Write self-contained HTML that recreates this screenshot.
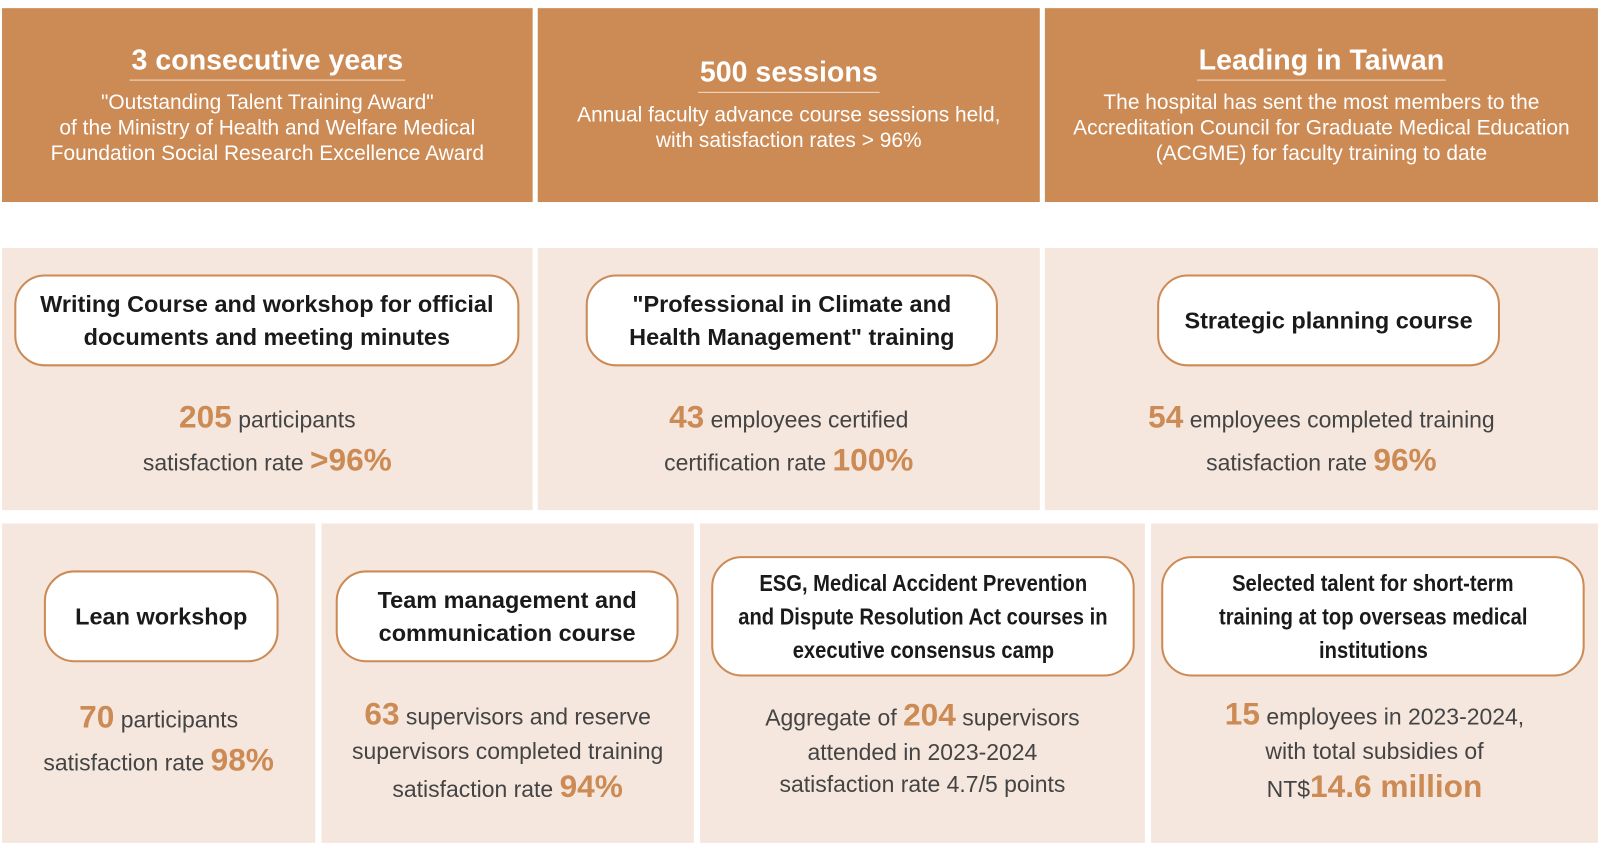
<!DOCTYPE html>
<html><head><meta charset="utf-8"><style>
html,body{margin:0;padding:0;background:#fff;width:1600px;height:850px;overflow:hidden}
#w{position:absolute;left:0;top:0;width:1568px;height:833px;transform:scale(1.0204);transform-origin:0 0;font-family:"Liberation Sans",Arial,sans-serif}
.b{position:absolute}
.o{background:#CC8A55;color:#fff;text-align:center}
.g{background:#F5E7DD;text-align:center;color:#333}
.t{position:absolute;left:0;right:0;text-align:center}
.title{font-weight:bold;font-size:28px;display:inline-block;border-bottom:1.5px solid #F3DCC8;padding:0 2px 3px}
.sub{font-size:20.5px;line-height:25px}
.pill{position:absolute;background:#fff;border:2px solid #CC8A55;border-radius:30px;display:flex;align-items:center;justify-content:center;text-align:center;font-weight:bold;font-size:23px;line-height:32px;color:#1a1a1a;box-sizing:border-box}
.n div{white-space:nowrap;transform:scaleX(0.86);font-size:23px;line-height:33px}
.s{font-size:22.5px;color:#444}
.h{color:#CC8A55;font-weight:bold;font-size:31px}
</style></head><body><div id="w">
<div class="b o" style="left:2px;top:8px;width:520px;height:190px">
 <div class="t" style="top:35px"><span class="title">3 consecutive years</span></div>
 <div class="t sub" style="top:80px">"Outstanding Talent Training Award"<br>of the Ministry of Health and Welfare Medical<br>Foundation Social Research Excellence Award</div>
</div>
<div class="b o" style="left:527px;top:8px;width:492px;height:190px">
 <div class="t" style="top:47px"><span class="title">500 sessions</span></div>
 <div class="t sub" style="top:92px">Annual faculty advance course sessions held,<br>with satisfaction rates &gt; 96%</div>
</div>
<div class="b o" style="left:1024px;top:8px;width:542px;height:190px">
 <div class="t" style="top:35px"><span class="title">Leading in Taiwan</span></div>
 <div class="t sub" style="top:80px">The hospital has sent the most members to the<br>Accreditation Council for Graduate Medical Education<br>(ACGME) for faculty training to date</div>
</div>

<div class="b g" style="left:2px;top:243px;width:520px;height:257px"></div>
<div class="b g" style="left:527px;top:243px;width:492px;height:257px"></div>
<div class="b g" style="left:1024px;top:243px;width:542px;height:257px"></div>
<div class="pill" style="left:14px;top:269px;width:495px;height:90px">Writing Course and workshop for official<br>documents and meeting minutes</div>
<div class="pill" style="left:574px;top:269px;width:404px;height:90px">"Professional in Climate and<br>Health Management" training</div>
<div class="pill" style="left:1134px;top:269px;width:336px;height:90px">Strategic planning course</div>
<div class="t s" style="left:2px;width:520px;right:auto;top:389px;line-height:39px"><span class="h">205</span> participants<br>satisfaction rate <span class="h">&gt;96%</span></div>
<div class="t s" style="left:527px;width:492px;right:auto;top:389px;line-height:39px"><span class="h">43</span> employees certified<br>certification rate <span class="h">100%</span></div>
<div class="t s" style="left:1024px;width:542px;right:auto;top:389px;line-height:39px"><span class="h">54</span> employees completed training<br>satisfaction rate <span class="h">96%</span></div>

<div class="b g" style="left:2px;top:513px;width:307px;height:313px"></div>
<div class="b g" style="left:315px;top:513px;width:365px;height:313px"></div>
<div class="b g" style="left:686px;top:513px;width:436px;height:313px"></div>
<div class="b g" style="left:1128px;top:513px;width:438px;height:313px"></div>
<div class="pill" style="left:43px;top:559px;width:230px;height:90px">Lean workshop</div>
<div class="pill" style="left:329px;top:559px;width:336px;height:90px">Team management and<br>communication course</div>
<div class="pill n" style="left:697px;top:545px;width:415px;height:118px;flex-direction:column"><div>ESG, Medical Accident Prevention</div><div>and Dispute Resolution Act courses in</div><div>executive consensus camp</div></div>
<div class="pill n" style="left:1138px;top:545px;width:415px;height:118px;flex-direction:column"><div>Selected talent for short-term</div><div>training at top overseas medical</div><div>institutions</div></div>
<div class="t s" style="left:2px;width:307px;right:auto;top:683px;line-height:39px"><span class="h">70</span> participants<br>satisfaction rate <span class="h">98%</span></div>
<div class="t s" style="left:315px;width:365px;right:auto;top:683px;line-height:34px"><span class="h">63</span> supervisors and reserve<br>supervisors completed training<br>satisfaction rate <span class="h">94%</span></div>
<div class="t s" style="left:686px;width:436px;right:auto;top:683px;line-height:31px"><span style="line-height:36px">Aggregate of <span class="h">204</span> supervisors</span><br>attended in 2023-2024<br>satisfaction rate 4.7/5 points</div>
<div class="t s" style="left:1128px;width:438px;right:auto;top:683px;line-height:34px"><span class="h">15</span> employees in 2023-2024,<br>with total subsidies of<br>NT$<span class="h">14.6 million</span></div>
</div></body></html>
